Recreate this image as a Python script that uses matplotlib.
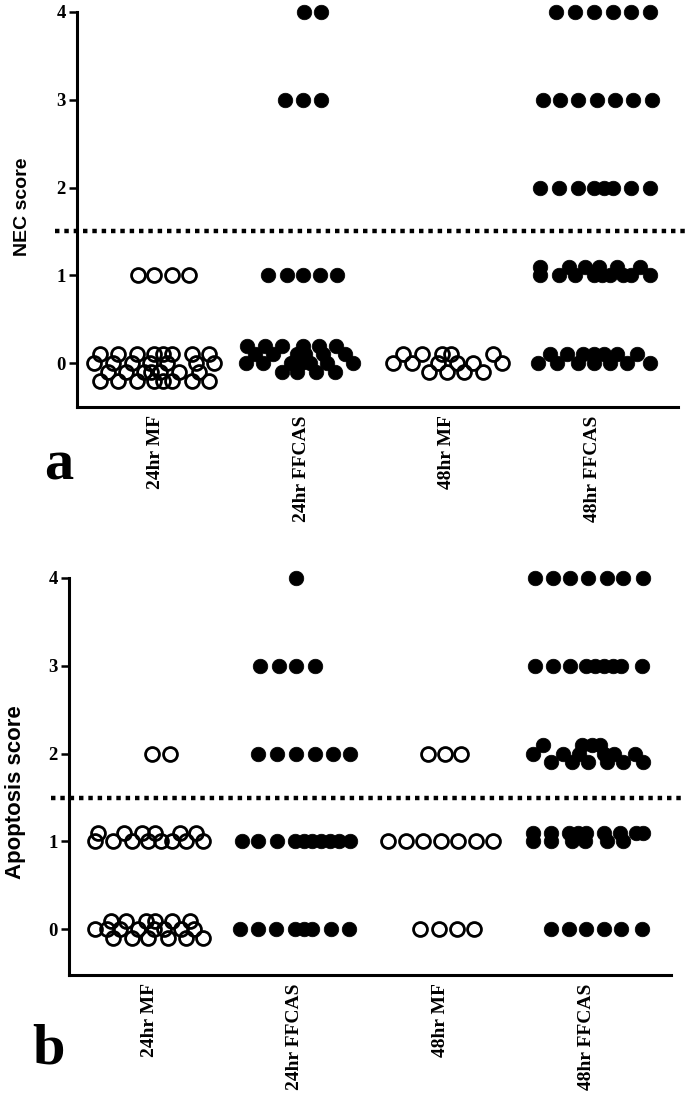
import matplotlib.pyplot as plt

# Grupos (eje x)
grupos = ['24hr MF', '24hr FFCAS', '48hr MF', '48hr FFCAS']
relleno = [False, True, False, True]

# Panel a: NEC score. Clave = nivel y, valor = desplazamientos x respecto al centro del grupo
nec_24mf = {
    1.0: [-0.12, -0.01, 0.11, 0.23],
    0.1: [-0.38, -0.26, -0.13, -0.01, 0.05, 0.11, 0.25, 0.37],
    0.0: [-0.42, -0.29, -0.16, -0.04, 0.08, 0.28, 0.40],
    -0.1: [-0.33, -0.20, -0.08, -0.03, 0.03, 0.16, 0.30],
    -0.2: [-0.38, -0.26, -0.13, -0.01, 0.05, 0.11, 0.25, 0.37],
}
nec_24ffcas = {
    4.0: [0.02, 0.14],
    3.0: [-0.11, 0.01, 0.14],
    1.0: [-0.23, -0.10, 0.01, 0.13, 0.25],
    0.2: [-0.37, -0.25, -0.13, 0.01, 0.12, 0.24],
    0.1: [-0.32, -0.19, -0.03, 0.03, 0.15, 0.30],
    0.0: [-0.38, -0.26, -0.07, 0.00, 0.06, 0.18, 0.36],
    -0.1: [-0.13, -0.03, 0.10, 0.23],
}
nec_48mf = {
    0.1: [-0.30, -0.17, -0.03, 0.03, 0.32],
    0.0: [-0.37, -0.24, -0.06, 0.07, 0.18, 0.38],
    -0.1: [-0.12, 0.00, 0.12, 0.25],
}
nec_48ffcas = {
    4.0: [-0.25, -0.12, 0.01, 0.14, 0.27, 0.40],
    3.0: [-0.34, -0.22, -0.10, 0.03, 0.16, 0.28, 0.41],
    2.0: [-0.36, -0.23, -0.10, 0.01, 0.08, 0.14, 0.27, 0.40],
    1.1: [-0.36, -0.16, -0.05, 0.05, 0.17, 0.33],
    1.0: [-0.36, -0.23, -0.12, 0.01, 0.07, 0.12, 0.21, 0.27, 0.40],
    0.1: [-0.29, -0.17, -0.06, 0.01, 0.08, 0.17, 0.31],
    0.0: [-0.37, -0.24, -0.10, 0.01, 0.12, 0.24, 0.40],
}

# Panel b: Apoptosis score
apo_24mf = {
    2.0: [0.02, 0.14],
    1.1: [-0.35, -0.17, -0.05, 0.04, 0.21, 0.32],
    1.0: [-0.37, -0.25, -0.12, -0.01, 0.08, 0.16, 0.25, 0.37],
    0.1: [-0.26, -0.16, -0.02, 0.04, 0.16, 0.28],
    0.0: [-0.37, -0.29, -0.20, -0.08, 0.03, 0.10, 0.22, 0.31],
    -0.1: [-0.25, -0.12, -0.01, 0.13, 0.25, 0.37],
}
apo_24ffcas = {
    4.0: [0.01],
    3.0: [-0.24, -0.11, 0.01, 0.14],
    2.0: [-0.25, -0.12, 0.01, 0.14, 0.26, 0.38],
    1.0: [-0.36, -0.25, -0.12, 0.00, 0.06, 0.12, 0.18, 0.24, 0.30, 0.38],
    0.0: [-0.38, -0.25, -0.13, 0.00, 0.06, 0.12, 0.25, 0.37],
}
apo_48mf = {
    2.0: [-0.09, 0.03, 0.14],
    1.0: [-0.36, -0.24, -0.12, 0.00, 0.12, 0.24, 0.36],
    0.0: [-0.14, -0.01, 0.11, 0.23],
}
apo_48ffcas = {
    4.0: [-0.35, -0.23, -0.11, 0.01, 0.14, 0.25, 0.39],
    3.0: [-0.35, -0.23, -0.11, 0.00, 0.06, 0.12, 0.18, 0.24, 0.38],
    2.1: [-0.30, -0.03, 0.04, 0.09],
    2.0: [-0.37, -0.16, -0.05, 0.12, 0.19, 0.33],
    1.9: [-0.24, -0.10, 0.01, 0.14, 0.25, 0.39],
    1.1: [-0.37, -0.24, -0.12, -0.06, 0.00, 0.12, 0.23, 0.34, 0.39],
    1.0: [-0.37, -0.24, -0.10, -0.01, 0.14, 0.25],
    0.0: [-0.24, -0.12, 0.00, 0.12, 0.24, 0.38],
}

umbral = 1.5
yticks = [0, 1, 2, 3, 4]

serif = 'Liberation Serif'
sans = 'Liberation Sans'


def dibujar_grupo(ax, i, filas, lleno):
    xs, ys = [], []
    for y, desp in filas.items():
        xs += [i + d for d in desp]
        ys += [y] * len(desp)
    if lleno:
        ax.plot(xs, ys, 'o', ms=10.5, mfc='black', mec='black', mew=0.5, clip_on=False)
    else:
        ax.plot(xs, ys, 'o', ms=10, mfc='none', mec='black', mew=2.0, clip_on=False)


def preparar_ejes(ax, xlim, ylim, x_punt):
    ax.set_xlim(*xlim)
    ax.set_ylim(*ylim)
    for s in ['top', 'right']:
        ax.spines[s].set_visible(False)
    for s in ['left', 'bottom']:
        ax.spines[s].set_linewidth(2.2)
    ax.spines['left'].set_bounds(ylim[0], 4)
    ax.set_yticks(yticks)
    ax.set_yticklabels([str(t) for t in yticks], fontfamily=serif, fontweight='bold', fontsize=13.5)
    ax.tick_params(axis='y', length=6, width=1.8, pad=2)
    ax.set_xticks(range(len(grupos)))
    ax.set_xticklabels(grupos, rotation=90, fontfamily=serif, fontweight='bold', fontsize=14)
    ax.tick_params(axis='x', length=0, pad=6)
    ax.axhline(umbral, xmin=x_punt[0], xmax=x_punt[1], color='black', lw=3.2,
               linestyle=(0, (1.0, 1.1)), clip_on=False)


fig = plt.figure(figsize=(6.85, 10.94), dpi=100)

# Panel a
ax_a = fig.add_axes([77 / 685, 1 - 407 / 1094, 601 / 685, 395 / 1094])
preparar_ejes(ax_a, (-0.54, 3.59), (-0.5, 4), (-0.037, 1.012))
for i, filas in enumerate([nec_24mf, nec_24ffcas, nec_48mf, nec_48ffcas]):
    dibujar_grupo(ax_a, i, filas, relleno[i])

# Panel b
ax_b = fig.add_axes([69 / 685, 1 - 975 / 1094, 602 / 685, 397 / 1094])
preparar_ejes(ax_b, (-0.55, 3.58), (-0.52, 4), (-0.03, 1.02))
for i, filas in enumerate([apo_24mf, apo_24ffcas, apo_48mf, apo_48ffcas]):
    dibujar_grupo(ax_b, i, filas, relleno[i])

fig.text(23 / 685, 1 - 207 / 1094, 'NEC score', rotation=90, ha='center', va='center',
         fontfamily=sans, fontweight='bold', fontsize=14)
fig.text(16 / 685, 1 - 792 / 1094, 'Apoptosis score', rotation=90, ha='center', va='center',
         fontfamily=sans, fontweight='bold', fontsize=16)

fig.text(59 / 685, 1 - 480 / 1094, 'a', ha='center', va='baseline',
         fontfamily=serif, fontweight='bold', fontsize=42)
fig.text(48 / 685, 1 - 1063 / 1094, 'b', ha='center', va='baseline',
         fontfamily=serif, fontweight='bold', fontsize=42)

fig.savefig('out.png', dpi=100)
